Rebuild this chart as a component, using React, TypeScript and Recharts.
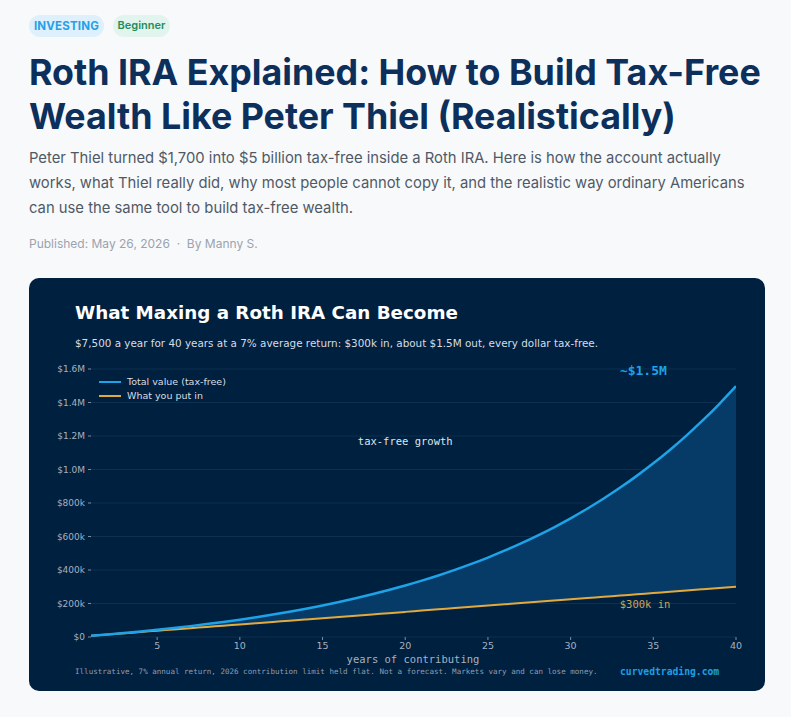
import React from "react";
import {
  ComposedChart,
  Area,
  Line,
  XAxis,
  YAxis,
  CartesianGrid,
  ReferenceDot,
} from "recharts";

const years = [1, 2, 3, 4, 5, 6, 7, 8, 9, 10, 11, 12, 13, 14, 15, 16, 17, 18, 19, 20, 21, 22, 23, 24, 25, 26, 27, 28, 29, 30, 31, 32, 33, 34, 35, 36, 37, 38, 39, 40];
const totalValue = [7500, 15525, 24112, 33300, 43131, 53650, 64905, 76949, 89835, 103624, 118377, 134164, 151055, 169129, 188467, 209161, 231302, 254994, 280342, 307466, 336488, 367543, 400771, 436325, 474368, 515074, 558629, 605233, 655099, 708456, 765548, 826636, 891994, 961941, 1036776, 1116851, 1202530, 1294208, 1392302, 1497263];
const putIn = [7500, 15000, 22500, 30000, 37500, 45000, 52500, 60000, 67500, 75000, 82500, 90000, 97500, 105000, 112500, 120000, 127500, 135000, 142500, 150000, 157500, 165000, 172500, 180000, 187500, 195000, 202500, 210000, 217500, 225000, 232500, 240000, 247500, 255000, 262500, 270000, 277500, 285000, 292500, 300000];
const xTicks = [5, 10, 15, 20, 25, 30, 35, 40];
const yTicks = [0, 200000, 400000, 600000, 800000, 1000000, 1200000, 1400000, 1600000];
const yTickLabels = ["$0", "$200k", "$400k", "$600k", "$800k", "$1.0M", "$1.2M", "$1.4M", "$1.6M"];

const data = years.map((y, i) => ({
  year: y,
  total: totalValue[i],
  putIn: putIn[i],
  band: [putIn[i], totalValue[i]],
}));

const NAVY = "#00203f";
const BLUE = "#1ea2e8";
const GOLD = "#e2a93e";
const SANS = "'DejaVu Sans', Verdana, sans-serif";
const MONO = "'DejaVu Sans Mono', monospace";
const PAGE_FONT = "Inter, 'Noto Sans', sans-serif";

const fmtY = (v: number) => {
  const i = yTicks.indexOf(v);
  return i >= 0 ? yTickLabels[i] : String(v);
};

export default function App() {
  return (
    <div
      style={{
        position: "absolute",
        left: 0,
        top: 0,
        width: 791,
        height: 717,
        background: "#f8f9fb",
        fontFamily: PAGE_FONT,
        overflow: "hidden",
      }}
    >
      {/* badges */}
      <div
        style={{
          position: "absolute",
          left: 29,
          top: 15,
          height: 22,
          width: 75,
          borderRadius: 11,
          background: "#ddf0fc",
          color: "#26a0e6",
          fontSize: 11.5,
          fontWeight: 700,
          display: "flex",
          alignItems: "center",
          justifyContent: "center",
          letterSpacing: 0.2,
        }}
      >
        INVESTING
      </div>
      <div
        style={{
          position: "absolute",
          left: 113,
          top: 15,
          height: 22,
          width: 57,
          borderRadius: 11,
          background: "#e2f4ee",
          color: "#1f8e5a",
          fontSize: 11,
          fontWeight: 600,
          display: "flex",
          alignItems: "center",
          justifyContent: "center",
          paddingBottom: 2,
          boxSizing: "border-box",
        }}
      >
        Beginner
      </div>

      {/* title */}
      <div
        style={{
          position: "absolute",
          left: 29,
          top: 50,
          width: 760,
          color: "#0c2f5b",
          fontSize: 35.8,
          fontWeight: 700,
          lineHeight: "44px",
          letterSpacing: 0,
          whiteSpace: "nowrap",
        }}
      >
        Roth IRA Explained: How to Build Tax-Free
        <br />
        Wealth Like Peter Thiel (Realistically)
      </div>

      {/* description */}
      <div
        style={{
          position: "absolute",
          left: 29,
          top: 146,
          width: 760,
          color: "#4f5966",
          fontSize: 14.8,
          lineHeight: "25px",
          whiteSpace: "nowrap",
        }}
      >
        Peter Thiel turned $1,700 into $5 billion tax-free inside a Roth IRA. Here is how the account actually
        <br />
        works, what Thiel really did, why most people cannot copy it, and the realistic way ordinary Americans
        <br />
        can use the same tool to build tax-free wealth.
      </div>

      <div
        style={{
          position: "absolute",
          left: 29,
          top: 236,
          color: "#9aa3ae",
          fontSize: 12,
          whiteSpace: "nowrap",
        }}
      >
        Published: May 26, 2026 &nbsp;·&nbsp; By Manny S.
      </div>

      {/* chart card */}
      <div
        style={{
          position: "absolute",
          left: 29,
          top: 278,
          width: 736,
          height: 413,
          background: NAVY,
          borderRadius: 10,
          overflow: "hidden",
        }}
      >
        <div
          style={{
            position: "absolute",
            left: 46,
            top: 24,
            color: "#ffffff",
            fontFamily: SANS,
            fontWeight: 700,
            fontSize: 18.3,
            whiteSpace: "nowrap",
          }}
        >
          What Maxing a Roth IRA Can Become
        </div>
        <div
          style={{
            position: "absolute",
            left: 46,
            top: 59,
            color: "#d6dde5",
            fontFamily: SANS,
            fontSize: 10.4,
            whiteSpace: "nowrap",
          }}
        >
          $7,500 a year for 40 years at a 7% average return: $300k in, about $1.5M out, every dollar tax-free.
        </div>

        <ComposedChart
          width={736}
          height={413}
          data={data}
          margin={{ top: 91, right: 29, bottom: 34, left: 0 }}
          style={{ position: "absolute", left: 0, top: 0 }}
        >
          <CartesianGrid vertical={false} stroke="#0f2f50" strokeWidth={1} />
          <XAxis
            dataKey="year"
            type="number"
            domain={[1, 40]}
            ticks={xTicks}
            height={20}
            tickSize={3}
            tickMargin={2}
            axisLine={false}
            tickLine={{ stroke: "#7f8fa3" }}
            tick={{ fill: "#a5b2c2", fontSize: 9.5, fontFamily: SANS }}
            allowDataOverflow
          />
          <YAxis
            type="number"
            domain={[0, 1600000]}
            ticks={yTicks}
            width={62}
            tickSize={3}
            tickMargin={3}
            axisLine={false}
            tickLine={{ stroke: "#7f8fa3" }}
            tick={{ fill: "#a5b2c2", fontSize: 9, fontFamily: SANS }}
            tickFormatter={fmtY}
          />
          <Area
            dataKey="band"
            type="monotone"
            stroke="none"
            fill="#053b66"
            fillOpacity={1}
            isAnimationActive={false}
          />
          <Line
            dataKey="putIn"
            type="monotone"
            stroke={GOLD}
            strokeWidth={2}
            dot={false}
            isAnimationActive={false}
          />
          <Line
            dataKey="total"
            type="monotone"
            stroke={BLUE}
            strokeWidth={2.5}
            dot={false}
            isAnimationActive={false}
          />
          <ReferenceDot
            x={34.4}
            y={1594000}
            r={0}
            fill="none"
            stroke="none"
            label={{
              value: "~$1.5M",
              position: "center",
              fill: BLUE,
              fontFamily: MONO,
              fontWeight: 700,
              fontSize: 13,
            }}
          />
          <ReferenceDot
            x={20}
            y={1170000}
            r={0}
            fill="none"
            stroke="none"
            label={{
              value: "tax-free growth",
              position: "center",
              fill: "#dfe6ee",
              fontFamily: MONO,
              fontSize: 10.5,
            }}
          />
          <ReferenceDot
            x={34.5}
            y={197000}
            r={0}
            fill="none"
            stroke="none"
            label={{
              value: "$300k in",
              position: "center",
              fill: "#c9a45c",
              fontFamily: MONO,
              fontSize: 10.5,
            }}
          />
        </ComposedChart>

        {/* legend */}
        <div
          style={{
            position: "absolute",
            left: 70,
            top: 97,
            fontFamily: SANS,
            fontSize: 9.5,
            color: "#d8dee6",
            lineHeight: "14px",
          }}
        >
          <div style={{ display: "flex", alignItems: "center" }}>
            <span style={{ display: "inline-block", width: 22, height: 2.5, background: BLUE, marginRight: 6 }} />
            Total value (tax-free)
          </div>
          <div style={{ display: "flex", alignItems: "center" }}>
            <span style={{ display: "inline-block", width: 22, height: 2.5, background: GOLD, marginRight: 6 }} />
            What you put in
          </div>
        </div>

        <div
          style={{
            position: "absolute",
            left: 0,
            width: 768,
            top: 375,
            textAlign: "center",
            fontFamily: MONO,
            fontSize: 10.5,
            color: "#a5b2c2",
            whiteSpace: "nowrap",
          }}
        >
          years of contributing
        </div>
        <div
          style={{
            position: "absolute",
            left: 46,
            top: 389,
            fontFamily: MONO,
            fontSize: 7.55,
            color: "#8e9db0",
            whiteSpace: "nowrap",
          }}
        >
          Illustrative, 7% annual return, 2026 contribution limit held flat. Not a forecast. Markets vary and can lose money.
        </div>
        <div
          style={{
            position: "absolute",
            left: 591,
            top: 388,
            fontFamily: MONO,
            fontSize: 9.7,
            fontWeight: 700,
            color: "#1e9fe0",
            whiteSpace: "nowrap",
          }}
        >
          curvedtrading.com
        </div>
      </div>
    </div>
  );
}
